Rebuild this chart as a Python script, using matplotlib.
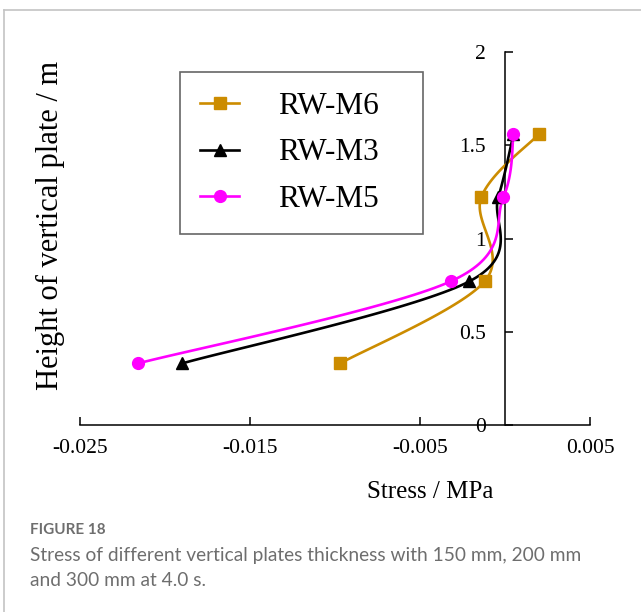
import matplotlib
matplotlib.use('Agg')
import matplotlib.pyplot as plt
from matplotlib.lines import Line2D
import numpy as np

#heights of the measuring points (m)
heights = [0.33, 0.77, 1.22, 1.56]

#stress values (MPa)
stress_m6 = [-0.0097, -0.0012, -0.0014, 0.0020]
stress_m3 = [-0.0190, -0.0021, -0.0004, 0.0005]
stress_m5 = [-0.0216, -0.0032, -0.0001, 0.0005]

labels = ['RW-M6', 'RW-M3', 'RW-M5']
colors = ['#CC8C00', '#000000', '#FF00FF']
markers = ['s', '^', 'o']

xticks = [-0.025, -0.015, -0.005, 0.005]
yticks = [0, 0.5, 1, 1.5, 2]

serif = 'Liberation Serif'


def smooth_curve(ax, xs, ys, n=40):
    #excel-like smoothed line: catmull-rom bezier in screen space
    pts = ax.transData.transform(np.column_stack([xs, ys]))
    out = [pts[0]]
    t = np.linspace(0, 1, n)[1:, None]
    for i in range(len(pts) - 1):
        p0 = pts[i - 1] if i > 0 else pts[i]
        p1 = pts[i]
        p2 = pts[i + 1]
        p3 = pts[i + 2] if i + 2 < len(pts) else pts[i + 1]
        c1 = p1 + (p2 - p0) / 6
        c2 = p2 - (p3 - p1) / 6
        seg = (1 - t)**3 * p1 + 3 * (1 - t)**2 * t * c1 + 3 * (1 - t) * t**2 * c2 + t**3 * p2
        out.extend(seg)
    return ax.transData.inverted().transform(np.array(out))


W, H = 641, 612
fig = plt.figure(figsize=(W / 100, H / 100), dpi=100)

#card border (top and left edge)
fig.add_artist(Line2D([4 / W, 4 / W], [0, 1 - 10 / H], color='#c4c4c4', lw=1.2))
fig.add_artist(Line2D([4 / W, 1], [1 - 10 / H, 1 - 10 / H], color='#c4c4c4', lw=1.2))

ax = fig.add_axes([80 / W, 1 - 425 / H, 510 / W, 373 / H])
ax.set_xlim(-0.025, 0.005)
ax.set_ylim(0, 2)

series = [stress_m6, stress_m3, stress_m5]
for xs, c, m in zip(series, colors, markers):
    curve = smooth_curve(ax, xs, heights)
    ax.plot(curve[:, 0], curve[:, 1], color=c, lw=1.9, zorder=3)
    ax.plot(xs, heights, ls='none', marker=m, color=c, ms=8.5, zorder=4, clip_on=False)

#axes styling
for s in ['top', 'right']:
    ax.spines[s].set_visible(False)
ax.spines['left'].set_position(('data', 0))
ax.spines['left'].set_linewidth(1.1)
ax.spines['bottom'].set_linewidth(1.1)

ax.set_xticks(xticks)
ax.set_xticklabels(['%g' % v for v in xticks])
ax.set_yticks(yticks)
ax.set_yticklabels(['%g' % v for v in yticks])
ax.tick_params(axis='x', direction='in', length=6, width=1.1, pad=10, labelsize=15.5)
ax.tick_params(axis='y', direction='in', length=6, width=1.1, pad=14, labelsize=15.5)
for lab in ax.get_xticklabels() + ax.get_yticklabels():
    lab.set_fontfamily(serif)

ax.set_xlabel('Stress / MPa', fontsize=18, family=serif)
ax.xaxis.set_label_coords((430 - 80) / 510, (425 - 481) / 373)
fig.text(50 / W, 1 - 225 / H, 'Height of vertical plate / m', rotation=90,
         ha='center', va='center', fontsize=22, family=serif)

#legend, stretched to the width of the box in the reference
handles = [Line2D([], [], color=c, marker=m, lw=1.9, ms=8.5) for c, m in zip(colors, markers)]
leg = fig.legend(handles, labels, loc='upper left',
                 bbox_to_anchor=(180 / W, 1 - 232 / H, 243 / W, 160 / H), mode='expand',
                 prop={'family': serif, 'size': 22.5}, frameon=True, fancybox=False,
                 edgecolor='#404040', handlelength=1.25, handletextpad=1.25,
                 labelspacing=0.55, borderpad=0.65, borderaxespad=0)
leg.get_frame().set_linewidth(1.2)

#caption
cap_color = '#6e6e6e'
fig.text(30 / W, 1 - 530 / H, 'FIGURE 18', fontsize=11, family='Lato', weight='bold',
         color=cap_color, va='center')
fig.text(30 / W, 1 - 555 / H, 'Stress of different vertical plates thickness with 150 mm, 200 mm',
         fontsize=13.8, family='Lato', color=cap_color, va='center')
fig.text(30 / W, 1 - 580 / H, 'and 300 mm at 4.0 s.',
         fontsize=13.8, family='Lato', color=cap_color, va='center')

fig.savefig('out.png', dpi=100)
